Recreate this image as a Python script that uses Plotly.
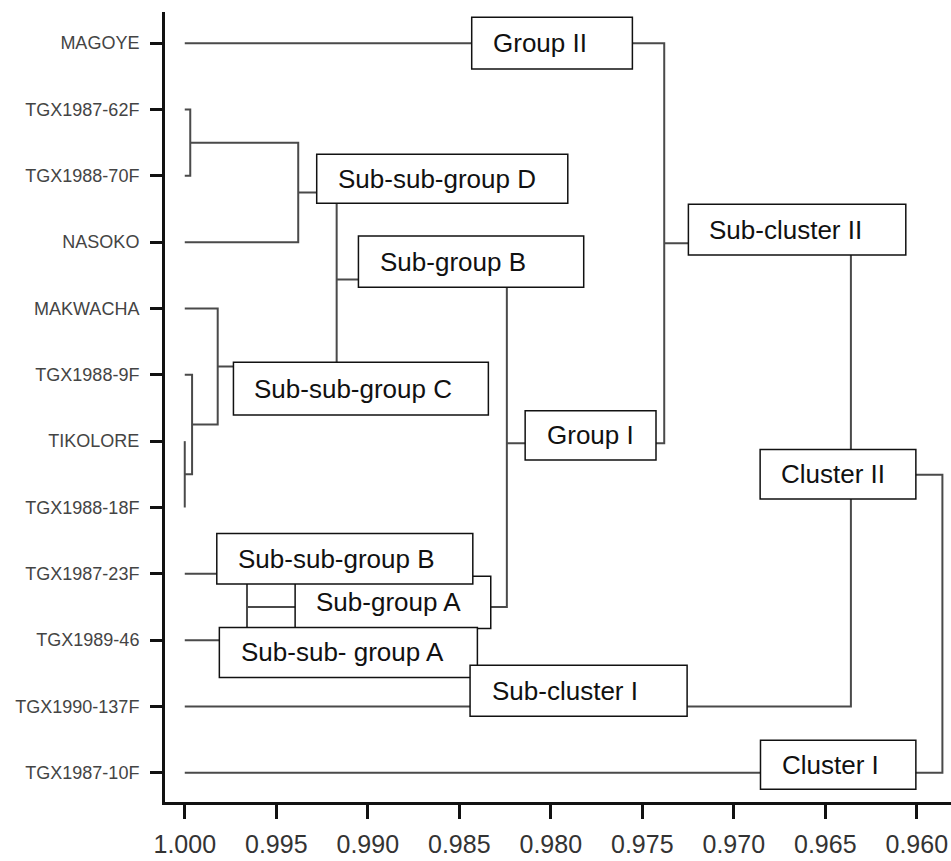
import plotly.graph_objects as go

# Accessions in the order they appear down the dendrogram
leaf_names = [
    "MAGOYE", "TGX1987-62F", "TGX1988-70F", "NASOKO", "MAKWACHA",
    "TGX1988-9F", "TIKOLORE", "TGX1988-18F", "TGX1987-23F",
    "TGX1989-46", "TGX1990-137F", "TGX1987-10F",
]

# Agglomeration steps: indices < 12 are leaves, >= 12 are earlier merges
merge_left = [1, 12, 6, 5, 4, 13, 8, 17, 0, 20, 21]
merge_right = [2, 3, 7, 14, 15, 16, 9, 18, 19, 10, 11]
merge_similarity = [0.9997, 0.9938, 1.0000, 0.9996, 0.9982, 0.9917,
                    0.9966, 0.9824, 0.9738, 0.9636, 0.9586]

tick_values = [1.000, 0.995, 0.990, 0.985, 0.980, 0.975, 0.970, 0.965, 0.960]

n_leaves = len(leaf_names)
node_x = [1.0] * n_leaves
node_y = list(range(n_leaves))

xs, ys = [], []
for a, b, h in zip(merge_left, merge_right, merge_similarity):
    xa, ya, xb, yb = node_x[a], node_y[a], node_x[b], node_y[b]
    xs += [xa, h, h, xb, None]
    ys += [ya, ya, yb, yb, None]
    node_x.append(h)
    node_y.append((ya + yb) / 2)

line_color = "#4a4a4a"
fig = go.Figure()
fig.add_trace(go.Scatter(
    x=xs, y=ys, mode="lines",
    line=dict(color=line_color, width=2),
    hoverinfo="skip", showlegend=False,
))

# Label boxes: text, box extent (x0, x1, y0, y1), text start
group_boxes = [
    ("Group II", 0.98432, 0.97554, -0.392, 0.388, 0.98328),
    ("Sub-sub-group D", 0.99279, 0.97907, 1.674, 2.413, 0.99173),
    ("Sub-group B", 0.99051, 0.97820, 2.906, 3.680, 0.98942),
    ("Sub-cluster II", 0.97248, 0.96060, 2.428, 3.193, 0.97144),
    ("Sub-sub-group C", 0.99734, 0.98341, 4.811, 5.606, 0.99631),
    ("Group I", 0.98140, 0.97425, 5.541, 6.285, 0.98031),
    ("Cluster II", 0.96856, 0.96005, 6.124, 6.873, 0.96751),
    ("Sub-group A", 0.99397, 0.98328, 8.035, 8.824, 0.99293),
    ("Sub-sub-group B", 0.99825, 0.98426, 7.391, 8.155, 0.99720),
    ("Sub-sub- group A", 0.99811, 0.98401, 8.808, 9.563, 0.99703),
    ("Sub-cluster I", 0.98441, 0.97255, 9.377, 10.146, 0.98332),
    ("Cluster I", 0.96854, 0.96005, 10.508, 11.247, 0.96747),
]

shapes, annotations = [], []
for text, x0, x1, y0, y1, tx in group_boxes:
    shapes.append(dict(
        type="rect", xref="x", yref="y", x0=x0, x1=x1, y0=y0, y1=y1,
        line=dict(color="#111111", width=1.5), fillcolor="white", layer="above",
    ))
    annotations.append(dict(
        text=text, x=tx, y=(y0 + y1) / 2, xref="x", yref="y",
        xanchor="left", yanchor="middle", showarrow=False,
        font=dict(family="Liberation Sans, Arial, sans-serif", size=26, color="#111111"),
    ))

fig.update_layout(
    width=951, height=861,
    margin=dict(l=165, r=0, t=12, b=59),
    plot_bgcolor="white", paper_bgcolor="white",
    shapes=shapes, annotations=annotations,
    xaxis=dict(
        range=[1.00108, 0.95813], tickvals=tick_values, tickformat=".3f",
        showgrid=False, zeroline=False, automargin=False,
        showline=True, linecolor="#111111", linewidth=3,
        ticks="outside", ticklen=14, tickwidth=3, tickcolor="#111111",
        ticklabelstandoff=4,
        tickfont=dict(family="Liberation Sans, Arial, sans-serif", size=25, color="#333333"),
    ),
    yaxis=dict(
        range=[11.44, -0.47], tickvals=list(range(n_leaves)), ticktext=leaf_names,
        showgrid=False, zeroline=False, automargin=False,
        showline=True, linecolor="#111111", linewidth=3,
        ticks="outside", ticklen=12, tickwidth=3, tickcolor="#111111",
        ticklabelstandoff=7,
        tickfont=dict(family="Liberation Sans, Arial, sans-serif", size=18, color="#444444"),
    ),
)

fig.write_html("out.html")
